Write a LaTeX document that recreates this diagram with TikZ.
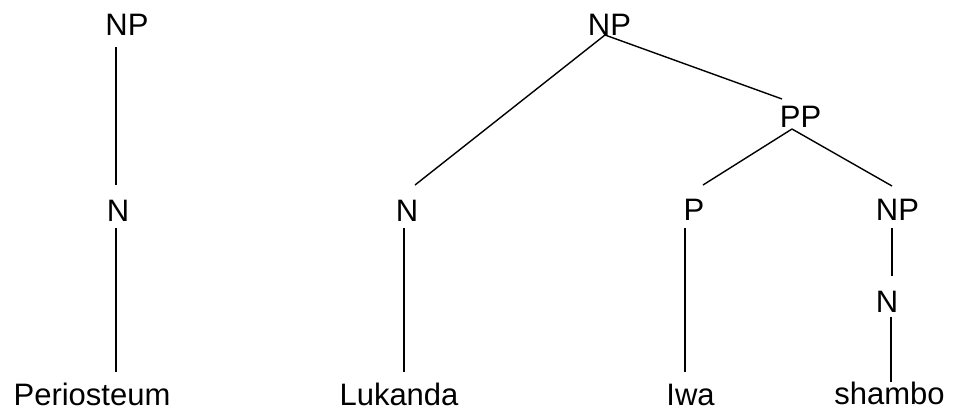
\documentclass[tikz,border=0pt]{standalone}
\usepackage{fontspec}
\setmainfont{Liberation Sans}
\begin{document}
\begin{tikzpicture}[x=1pt,y=-1pt,
  lbl/.style={anchor=base,inner sep=0pt,font=\fontsize{31}{37}\selectfont},
  edge/.style={line width=1.4pt}]
\useasboundingbox (0,0) rectangle (955,414);
% left tree
\node[lbl] (npL) at (127,36) {NP};
\node[lbl] (nL) at (118,221) {N};
\node[lbl] (peri) at (92,405) {Periosteum};
% right tree
\node[lbl] (npR) at (609.5,36) {NP};
\node[lbl] (nR) at (407,221) {N};
\node[lbl] (luk) at (399,405) {Lukanda};
\node[lbl] (pp) at (800.5,128) {PP};
\node[lbl] (p) at (694,220) {P};
\node[lbl] (iwa) at (690.5,405) {Iwa};
\node[lbl] (np2) at (897.5,220) {NP};
\node[lbl] (n2) at (887,312) {N};
\node[lbl] (sha) at (889.5,404) {shambo};
% connectors
\draw[edge] ([shift={(-11,11)}]npL.base) -- ([shift={(-2,-36)}]nL.base);
\draw[edge] ([shift={(-2,7)}]nL.base) -- ([shift={(24,-33)}]peri.base);
\draw[edge] ([shift={(-4.5,-1)}]npR.base) -- ([shift={(8,-36)}]nR.base);
\draw[edge] ([shift={(-4.5,-1)}]npR.base) -- ([shift={(-18.5,-29)}]pp.base);
\draw[edge] ([shift={(-3,7)}]nR.base) -- ([shift={(5,-33)}]luk.base);
\draw[edge] ([shift={(-8.5,1)}]pp.base) -- ([shift={(9,-35)}]p.base);
\draw[edge] ([shift={(-8.5,1)}]pp.base) -- ([shift={(-5.5,-34)}]np2.base);
\draw[edge] ([shift={(-9,8)}]p.base) -- ([shift={(-5.5,-33)}]iwa.base);
\draw[edge] ([shift={(-5.5,8)}]np2.base) -- ([shift={(5,-36)}]n2.base);
\draw[edge] ([shift={(4,5)}]n2.base) -- ([shift={(1.5,-22)}]sha.base);
\end{tikzpicture}
\end{document}
